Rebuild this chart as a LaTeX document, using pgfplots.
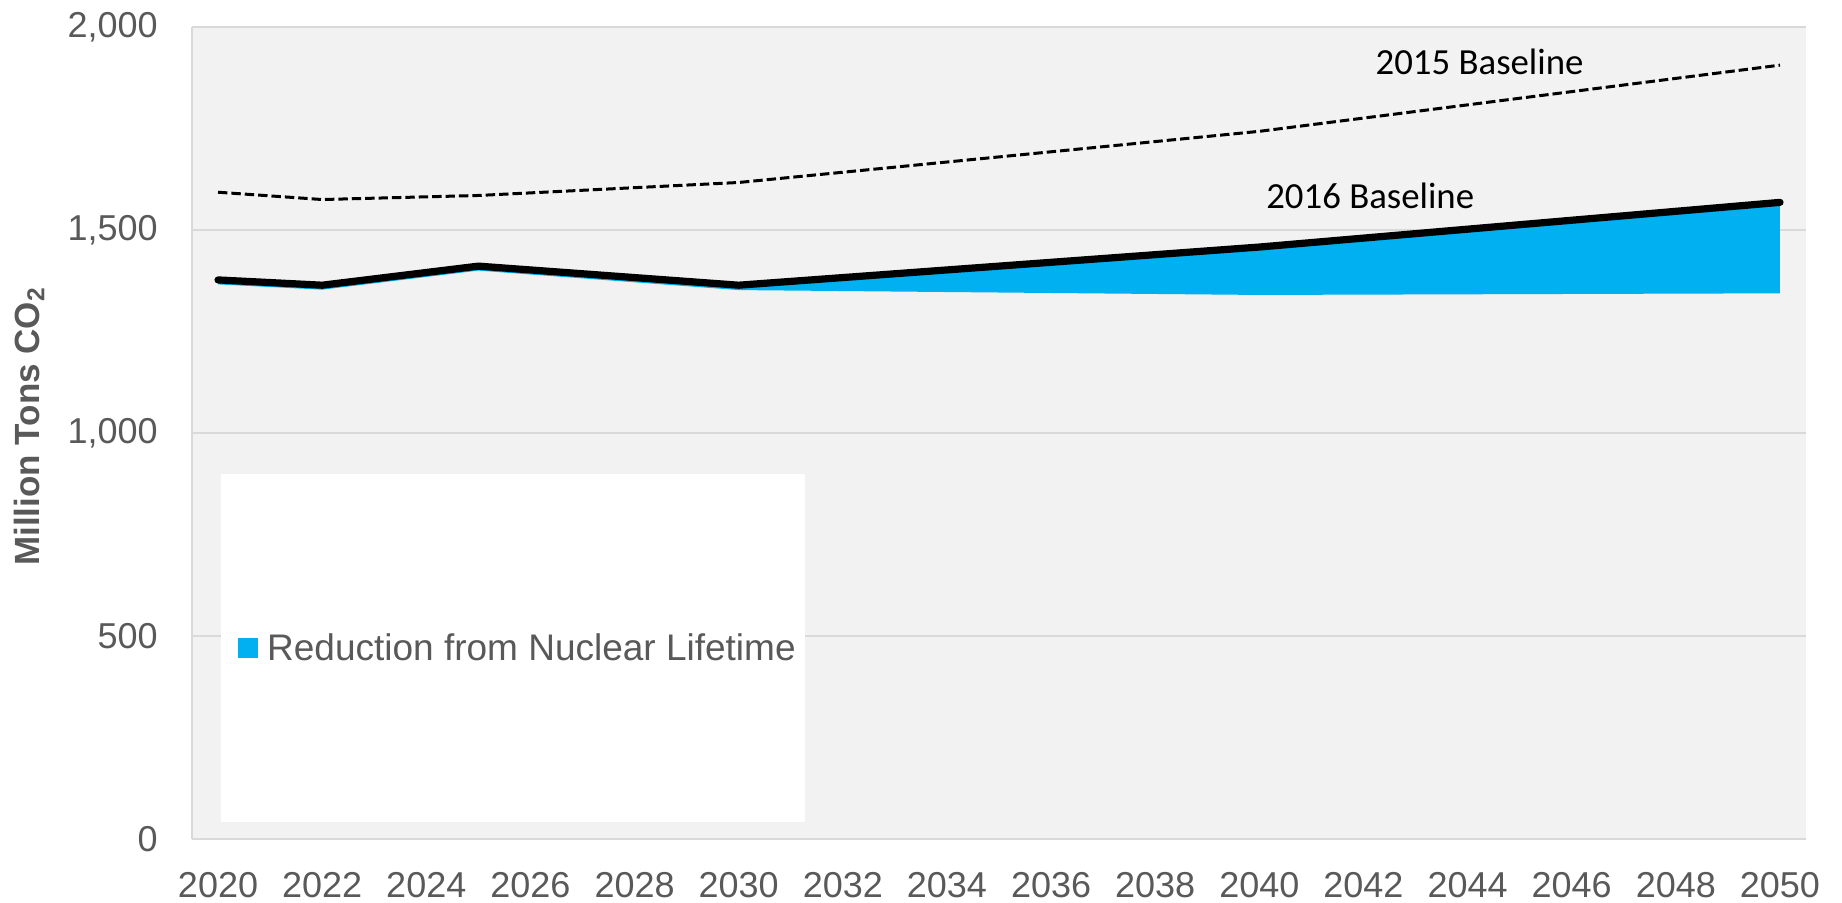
\documentclass[border=0pt]{standalone}
\usepackage{fontspec}
\setmainfont{Liberation Sans}
\newfontfamily\carlito{Carlito}
\usepackage{pgfplots}
\pgfplotsset{compat=1.18}
\usepgfplotslibrary{fillbetween}
\usetikzlibrary{calc}
\definecolor{plotbg}{HTML}{F2F2F2}
\definecolor{gridc}{HTML}{D9D9D9}
\definecolor{txt}{HTML}{595959}
\definecolor{nucblue}{HTML}{00B0F0}

\begin{document}
\begin{tikzpicture}
\begin{axis}[
  scale only axis, width=807pt, height=406pt,
  xmin=2019.5, xmax=2050.5, ymin=0, ymax=2000,
  xtick={2020,2022,...,2050}, ytick={0,500,...,2000},
  axis x line=bottom, axis y line=left,
  axis line style={gridc, line width=0.8pt, -},
  major tick length=0pt,
  ymajorgrids, grid style={gridc, line width=0.8pt},
  axis background/.style={fill=plotbg},
  tick label style={font=\fontsize{18pt}{20pt}\selectfont, text=txt, inner sep=0pt},
  /pgf/number format/assume math mode=true,
  x tick label style={/pgf/number format/1000 sep={}},
  y tick label style={/pgf/number format/1000 sep={,}},
  xticklabel shift=16.5pt, yticklabel shift=17pt,
  ylabel={Million Tons CO\textsubscript{2}},
  ylabel style={at={(rel axis cs:-0.101,0.508)}, anchor=center, font=\bfseries\fontsize{17.5pt}{20pt}\selectfont, text=txt},
  legend style={at={(rel axis cs:0.0285,0.235)}, anchor=west, fill=none, draw=none, inner sep=0pt,
    nodes={inner sep=0pt}, column sep=4.5pt,
    font=\fontsize{18.5pt}{20pt}\selectfont, text=txt},
  legend cell align=left,
]
\coordinate (sw) at (rel axis cs:0,0);
\coordinate (ne) at (rel axis cs:1,1);
\fill[white] (rel axis cs:0.018,0.021) rectangle (rel axis cs:0.380,0.4495);

\addplot[name path=upper, draw=none, forget plot] coordinates {
  (2020,1377) (2022,1364) (2025,1411) (2030,1364) (2040,1458) (2050,1568)};
\addplot[name path=lower, draw=none, forget plot] coordinates {
  (2020,1366) (2022,1353) (2025,1400) (2030,1352) (2040,1340) (2050,1344)};
\addplot[nucblue, forget plot] fill between[of=upper and lower];

\addplot[black, line width=1.5pt, dash pattern=on 4.7pt off 2pt, forget plot] coordinates {
  (2020,1593) (2022,1575) (2025,1585) (2030,1617) (2040,1743) (2050,1906)};
\addplot[black, line width=3.6pt, line cap=round, line join=round, forget plot] coordinates {
  (2020,1377) (2022,1364) (2025,1411) (2030,1364) (2040,1458) (2050,1568)};

\addlegendimage{legend image code/.code={\fill[nucblue] (0pt,-4.75pt) rectangle (9.5pt,4.75pt);}}
\addlegendentry{Reduction from Nuclear Lifetime}

\node[font=\carlito\fontsize{18.4pt}{20pt}\selectfont, text=black] at (axis cs:2044.23,1913) {2015 Baseline};
\node[font=\carlito\fontsize{18.4pt}{20pt}\selectfont, text=black] at (axis cs:2042.13,1583) {2016 Baseline};
\end{axis}
\pgfresetboundingbox
\path[use as bounding box] ($(sw)+(-96pt,-32pt)$) rectangle ($(ne)+(18pt,13.5pt)$);
\end{tikzpicture}
\end{document}
